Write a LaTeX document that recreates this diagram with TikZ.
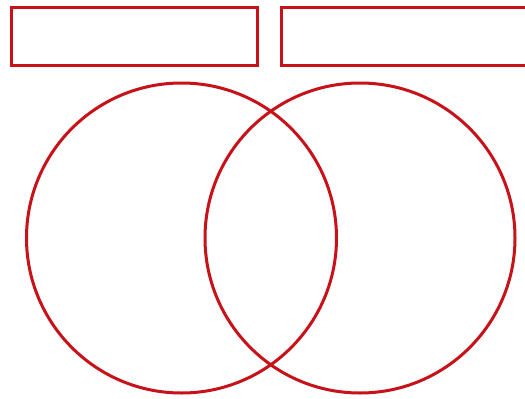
\documentclass[tikz,border=0pt]{standalone}
\definecolor{vennred}{RGB}{200,18,26}
\begin{document}
\begin{tikzpicture}[x=1pt,y=-1pt,
  box/.style={draw=vennred,line width=3pt,inner sep=0pt,minimum width=#1,minimum height=58pt},
  ring/.style={draw=vennred,line width=3pt,circle,inner sep=0pt,minimum size=310pt}]
\clip (0,0) rectangle (525,399);
\fill[white] (0,0) rectangle (525,399);
\node[box=246pt] (boxA) at (134,36) {};
\node[box=250pt] (boxB) at (406,36) {};
\node[ring] (setA) at (181.5,238) {};
\node[ring] (setB) at (360,238) {};
\end{tikzpicture}
\end{document}
